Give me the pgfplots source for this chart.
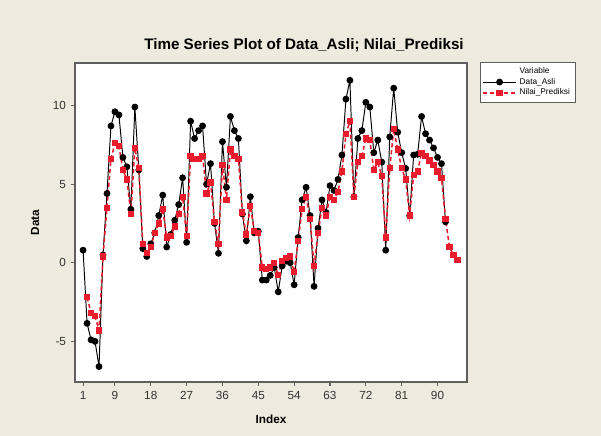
\documentclass[border=0pt]{standalone}
\usepackage{fontspec}
\setmainfont{Liberation Sans}
\usepackage{pgfplots}
\pgfplotsset{compat=1.18}
\definecolor{bgtan}{RGB}{238,234,222}
\definecolor{predred}{RGB}{232,28,44}
\definecolor{framegray}{RGB}{95,95,95}

\begin{document}
\begin{tikzpicture}
\fill[bgtan] (0,0) rectangle (6.01in,4.36in);
\useasboundingbox (0,0) rectangle (6.01in,4.36in);
\node[font=\bfseries\fontsize{11}{13}\selectfont] at (3.04in,3.91in)
  {Time Series Plot of Data\_Asli; Nilai\_Prediksi};
\begin{axis}[
    at={(0.75in,0.54in)}, anchor=south west,
    scale only axis, width=3.92in, height=3.19in,
    xmin=-1.03, xmax=97.4, ymin=-7.58, ymax=12.7,
    xtick={1,9,18,27,36,45,54,63,72,81,90},
    ytick={-5,0,5,10},
    tick align=outside, tick pos=left,
    major tick length=3pt,
    tick style={framegray, line width=0.8pt},
    axis line style={framegray, line width=1.2pt},
    axis background/.style={fill=white},
    /pgf/number format/assume math mode=true,
    ticklabel style={font=\fontsize{8.5}{9}\selectfont, text=black!80},
    xlabel={\textbf{Index}}, ylabel={\textbf{Data}},
    label style={font=\fontsize{8.5}{10}\selectfont},
    xlabel style={yshift=-4.5pt},
    ylabel style={yshift=3pt},
    legend style={at={(1.033,1.003)}, anchor=north west, draw=framegray,
                  fill=white, font=\fontsize{6}{7}\selectfont,
                  row sep=-2pt, inner sep=1.5pt},
    legend cell align=left,
    legend image code/.code={\draw[mark repeat=2,mark phase=2,#1]
        plot coordinates {(0cm,0cm) (0.42cm,0cm) (0.84cm,0cm)};},
]
\addlegendimage{empty legend}
\addlegendentry{Variable}
\addplot[black, line width=0.7pt, mark=*, mark size=2.1pt,
         mark options={solid, fill=black}]
coordinates {(1,0.8)(2,-3.85)(3,-4.9)(4,-5.0)(5,-6.6)(6,0.5)(7,4.4)(8,8.7)(9,9.6)(10,9.4)
(11,6.7)(12,6.1)(13,3.4)(14,9.9)(15,5.9)(16,0.9)(17,0.4)(18,1.2)(19,1.9)(20,3.0)
(21,4.3)(22,1.0)(23,1.8)(24,2.7)(25,3.7)(26,5.4)(27,1.3)(28,9.0)(29,7.9)(30,8.4)
(31,8.7)(32,5.0)(33,6.3)(34,2.5)(35,0.6)(36,7.7)(37,4.8)(38,9.3)(39,8.4)(40,7.9)
(41,3.1)(42,1.4)(43,4.2)(44,1.9)(45,2.0)(46,-1.1)(47,-1.1)(48,-0.8)(49,-0.3)(50,-1.85)
(51,-0.2)(52,0.1)(53,0.0)(54,-1.4)(55,1.6)(56,4.0)(57,4.8)(58,3.0)(59,-1.5)(60,2.2)
(61,4.0)(62,3.2)(63,4.9)(64,4.6)(65,5.3)(66,6.85)(67,10.4)(68,11.6)(69,4.2)(70,7.9)
(71,8.4)(72,10.2)(73,9.9)(74,7.0)(75,7.8)(76,6.4)(77,0.8)(78,8.0)(79,11.1)(80,8.3)
(81,7.0)(82,6.0)(83,3.0)(84,6.85)(85,6.9)(86,9.3)(87,8.2)(88,7.8)(89,7.3)(90,6.7)
(91,6.3)(92,2.6)};
\addlegendentry{Data\_Asli}
\addplot[predred, line width=1.1pt, dash pattern=on 3pt off 2pt,
         mark=square*, mark size=1.7pt, mark options={solid, fill=predred}]
coordinates {(2,-2.2)(3,-3.2)(4,-3.4)(5,-4.3)(6,0.4)(7,3.5)(8,6.6)(9,7.6)(10,7.4)
(11,5.9)(12,5.3)(13,3.1)(14,7.3)(15,6.0)(16,1.2)(17,0.6)(18,1.0)(19,1.9)(20,2.5)
(21,3.4)(22,1.6)(23,1.7)(24,2.3)(25,3.1)(26,4.2)(27,1.7)(28,6.8)(29,6.6)(30,6.6)
(31,6.8)(32,4.4)(33,5.1)(34,2.6)(35,1.2)(36,6.2)(37,4.0)(38,7.2)(39,6.8)(40,6.6)
(41,3.2)(42,1.8)(43,3.6)(44,2.0)(45,1.9)(46,-0.3)(47,-0.4)(48,-0.3)(49,0.0)(50,-0.8)
(51,0.1)(52,0.3)(53,0.4)(54,-0.6)(55,1.4)(56,3.4)(57,4.2)(58,2.8)(59,-0.2)(60,1.9)
(61,3.5)(62,3.0)(63,4.2)(64,4.0)(65,4.5)(66,5.8)(67,8.2)(68,9.0)(69,4.2)(70,6.4)
(71,6.8)(72,7.9)(73,7.8)(74,5.9)(75,6.4)(76,5.5)(77,1.6)(78,6.0)(79,8.5)(80,7.2)
(81,6.0)(82,5.3)(83,3.0)(84,5.6)(85,5.8)(86,7.0)(87,6.8)(88,6.5)(89,6.2)(90,5.8)
(91,5.4)(92,2.8)(93,1.0)(94,0.5)(95,0.2)};
\addlegendentry{Nilai\_Prediksi}
\end{axis}
\end{tikzpicture}
\end{document}
